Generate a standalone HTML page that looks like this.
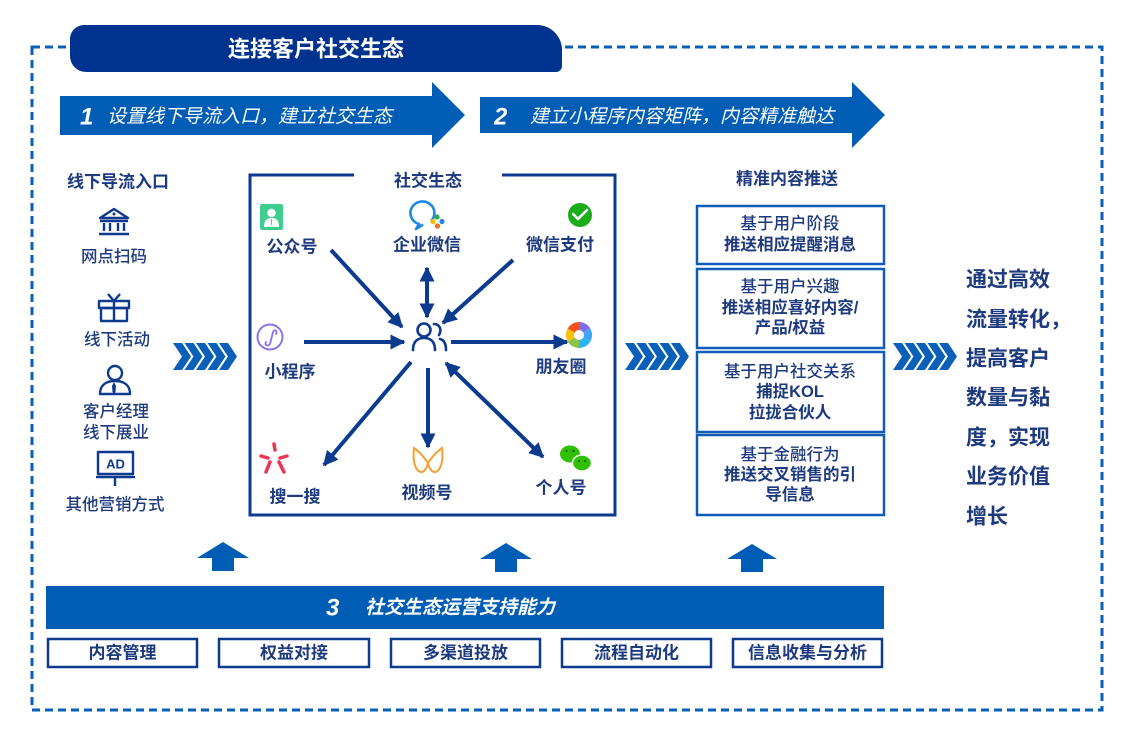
<!DOCTYPE html>
<html><head><meta charset="utf-8"><style>
html,body{margin:0;padding:0;background:#fff;}
svg{display:block;}
text{font-family:"Liberation Sans","Noto Sans CJK SC",sans-serif;}
</style></head><body>
<svg width="1127" height="731" viewBox="0 0 1127 731" xmlns="http://www.w3.org/2000/svg">
<defs>
<marker id="ah" viewBox="0 0 10 10" refX="9" refY="5" markerWidth="15" markerHeight="15" markerUnits="userSpaceOnUse" orient="auto-start-reverse">
<path d="M0,0 L10,5 L0,10 z" fill="#0B3A8F"/>
</marker>
</defs>
<rect width="1127" height="731" fill="#fff"/>
<!-- dashed border -->
<rect x="32" y="47" width="1070" height="663" fill="none" stroke="#0A5FB8" stroke-width="3" stroke-dasharray="8 5"/>
<!-- title bar -->
<path d="M84 25 H537 A25 25 0 0 1 562 50 V66 A6 6 0 0 1 556 72 H86 A16 16 0 0 1 70 56 V39 A14 14 0 0 1 84 25 Z" fill="#00338F"/>
<text x="316" y="49" text-anchor="middle" dominant-baseline="central" font-size="22" font-weight="700" fill="#fff">连接客户社交生态</text>

<!-- arrow 1 -->
<polygon points="60,96 432,96 432,82 465,115 432,148 432,135 60,135" fill="#005DB6"/>
<text x="80" y="117" dominant-baseline="central" font-size="24" font-weight="700" font-style="italic" fill="#fff">1</text>
<text x="107" y="117" dominant-baseline="central" font-size="19" font-style="italic" fill="#fff">设置线下导流入口，建立社交生态</text>
<!-- arrow 2 -->
<polygon points="480,97 852,97 852,82 885,115 852,148 852,133 480,133" fill="#005DB6"/>
<text x="494" y="117" dominant-baseline="central" font-size="24" font-weight="700" font-style="italic" fill="#fff">2</text>
<text x="530" y="117" dominant-baseline="central" font-size="19" font-style="italic" fill="#fff">建立小程序内容矩阵，内容精准触达</text>

<!-- left column -->
<g fill="#1E3A7E" text-anchor="middle" dominant-baseline="central">
<text x="118" y="182" font-size="17" font-weight="700">线下导流入口</text>
<text x="114" y="257" font-size="16.5" font-weight="500">网点扫码</text>
<text x="117" y="340" font-size="16.5" font-weight="500">线下活动</text>
<text x="116" y="412" font-size="16.5" font-weight="500">客户经理</text>
<text x="116" y="433" font-size="16.5" font-weight="500">线下展业</text>
<text x="115" y="505" font-size="16.5" font-weight="500">其他营销方式</text>
</g>
<g fill="none" stroke="#0B3A8F" stroke-width="2.4" stroke-linejoin="round">
<!-- bank -->
<path d="M100 218 L114 209 L128 218 Z"/>
<line x1="100" y1="221" x2="128" y2="221"/>
<line x1="104" y1="223" x2="104" y2="231"/>
<line x1="110" y1="223" x2="110" y2="231"/>
<line x1="118" y1="223" x2="118" y2="231"/>
<line x1="124" y1="223" x2="124" y2="231"/>
<line x1="99" y1="234" x2="129" y2="234"/>
<!-- gift -->
<rect x="99" y="301" width="30" height="7"/>
<rect x="101" y="308" width="26" height="13"/>
<line x1="114" y1="301" x2="114" y2="321"/>
<path d="M114 301 L108 294 M114 301 L120 294"/>
<!-- person -->
<circle cx="115" cy="373" r="7"/>
<path d="M100 394 C100 385 106 381 115 381 C124 381 130 385 130 394 Z"/>
<!-- AD -->
<rect x="98" y="452" width="35" height="22"/>
<line x1="96" y1="477" x2="135" y2="477"/>
<line x1="115" y1="477" x2="115" y2="486"/>
</g>
<circle cx="114" cy="214" r="1.5" fill="#0B3A8F"/>
<path d="M114 382 L116 386 L115.5 392 L114 394 L112.5 392 L112 386 Z" fill="#0B3A8F"/>
<text x="115.5" y="464" text-anchor="middle" dominant-baseline="central" font-size="13" font-weight="700" fill="#0B3A8F">AD</text>

<!-- chevrons -->
<g fill="#0A5FB8">
<g id="chev">
<polygon points="173,343 182,343 191,356.5 182,370 173,370 182,356.5"/>
<polygon points="184.5,343 193.5,343 202.5,356.5 193.5,370 184.5,370 193.5,356.5"/>
<polygon points="196,343 205,343 214,356.5 205,370 196,370 205,356.5"/>
<polygon points="207.5,343 216.5,343 225.5,356.5 216.5,370 207.5,370 216.5,356.5"/>
<polygon points="219,343 228,343 237,356.5 228,370 219,370 228,356.5"/>
</g>
<use href="#chev" x="452"/>
<use href="#chev" x="720"/>
</g>

<!-- center box -->
<rect x="250" y="175" width="365" height="340" fill="none" stroke="#0B3A8F" stroke-width="3"/>
<rect x="354" y="170" width="148" height="10" fill="#fff"/>
<text x="428" y="181" text-anchor="middle" dominant-baseline="central" font-size="17" font-weight="700" fill="#1E3A7E">社交生态</text>

<!-- arrows -->
<g stroke="#0B3A8F" stroke-width="4" fill="none">
<line x1="331" y1="250" x2="402" y2="327" marker-end="url(#ah)"/>
<line x1="427" y1="268" x2="427" y2="317" marker-start="url(#ah)" marker-end="url(#ah)"/>
<line x1="513" y1="260" x2="443" y2="323" marker-end="url(#ah)"/>
<line x1="304" y1="342" x2="404" y2="342" marker-end="url(#ah)"/>
<line x1="451" y1="342" x2="567" y2="342" marker-end="url(#ah)"/>
<line x1="411" y1="362" x2="324" y2="465" marker-end="url(#ah)"/>
<line x1="428" y1="368" x2="428" y2="447" marker-end="url(#ah)"/>
<line x1="446" y1="363" x2="543" y2="457" marker-start="url(#ah)" marker-end="url(#ah)"/>
</g>
<!-- people icon -->
<g fill="none" stroke="#0B3A8F" stroke-width="2.6" stroke-linecap="round">
<circle cx="424" cy="330" r="6.5"/>
<path d="M413 350 C413 341 418 338 424 338 C430 338 435 341 435 350"/>
<path d="M434 324 C440 324 442 330 439 335"/>
<path d="M440 339 C444 340 446 344 446 350"/>
</g>

<!-- center icons -->
<rect x="260" y="204" width="23" height="26" rx="2" fill="#3ECF8E"/>
<circle cx="271.5" cy="213" r="4.2" fill="#fff"/>
<path d="M264 227 C264 220 267 218 271.5 218 C276 218 279 220 279 227 Z" fill="#fff"/>
<line x1="271.5" y1="219" x2="271.5" y2="225" stroke="#3ECF8E" stroke-width="1"/>

<path d="M431 221 A12 11.5 0 1 0 419 224 L416 229 L423 224.5" fill="none" stroke="#1E88E5" stroke-width="2.6" stroke-linejoin="round"/>
<g>
<circle cx="437" cy="217" r="2.6" fill="#2DAA4F"/>
<circle cx="442" cy="221.5" r="2.6" fill="#1E88E5"/>
<circle cx="437.5" cy="226" r="2.6" fill="#F26B21"/>
<circle cx="433" cy="221.5" r="2.6" fill="#F6BE00"/>
</g>

<circle cx="580" cy="215" r="12" fill="#1AAD19"/>
<path d="M573 214 L578 219 L587 210" fill="none" stroke="#fff" stroke-width="2.6" stroke-linecap="round" stroke-linejoin="round"/>

<circle cx="270" cy="337" r="12.5" fill="none" stroke="#8C72E8" stroke-width="2"/>
<path d="M266 342 C264 345 268 347 270 344 L273 332 C274 329 278 330 276 334" fill="none" stroke="#8C72E8" stroke-width="1.8" stroke-linecap="round"/>

<g transform="translate(579,335)">
<path d="M0 0 L0 -13 A13 13 0 0 1 11.3 -6.5 Z" fill="#7A6FE8"/>
<path d="M0 0 L11.3 -6.5 A13 13 0 0 1 11.3 6.5 Z" fill="#3DA5F4"/>
<path d="M0 0 L11.3 6.5 A13 13 0 0 1 0 13 Z" fill="#29B6F6"/>
<path d="M0 0 L0 13 A13 13 0 0 1 -11.3 6.5 Z" fill="#8BC34A"/>
<path d="M0 0 L-11.3 6.5 A13 13 0 0 1 -11.3 -6.5 Z" fill="#FFC107"/>
<path d="M0 0 L-11.3 -6.5 A13 13 0 0 1 0 -13 Z" fill="#F4511E"/>
<circle r="5" fill="#fff"/>
</g>

<g stroke="#EE3355" stroke-width="3.5" stroke-linecap="round">
<line x1="274" y1="444" x2="275" y2="450"/>
<line x1="261" y1="456" x2="268" y2="458"/>
<line x1="280" y1="458" x2="287" y2="456"/>
<line x1="270" y1="462" x2="266" y2="472"/>
<line x1="279" y1="462" x2="284" y2="472"/>
</g>

<path d="M414 448 C411 472 424 480 428 463 C432 480 445 472 442 448 C436 452 432 457 428 463 C424 457 420 452 414 448 Z" fill="none" stroke="#F5A030" stroke-width="2"/>

<ellipse cx="570" cy="454" rx="10" ry="8.5" fill="#2DC100"/>
<ellipse cx="582" cy="463" rx="9.5" ry="8" fill="#2DC100" stroke="#fff" stroke-width="1.5"/>
<circle cx="566.5" cy="451" r="1.2" fill="#1B5E20"/>
<circle cx="573.5" cy="451" r="1.2" fill="#1B5E20"/>
<circle cx="579" cy="461" r="1.1" fill="#1B5E20"/>
<circle cx="585" cy="461" r="1.1" fill="#1B5E20"/>

<!-- center labels -->
<g fill="#1E3A7E" text-anchor="middle" dominant-baseline="central" font-size="17" font-weight="700">
<text x="292" y="247">公众号</text>
<text x="427" y="245">企业微信</text>
<text x="560" y="245">微信支付</text>
<text x="290" y="372">小程序</text>
<text x="561" y="367">朋友圈</text>
<text x="295" y="497">搜一搜</text>
<text x="427" y="493">视频号</text>
<text x="561" y="488">个人号</text>
</g>

<!-- right column -->
<text x="787" y="179" text-anchor="middle" dominant-baseline="central" font-size="17" font-weight="700" fill="#1E3A7E">精准内容推送</text>
<g fill="none" stroke="#0F5BB5" stroke-width="2.5">
<rect x="697" y="206" width="187" height="58"/>
<rect x="697" y="269" width="187" height="79"/>
<rect x="697" y="352" width="187" height="80"/>
<rect x="697" y="435" width="187" height="80"/>
</g>
<g fill="#1E3A7E" text-anchor="middle" dominant-baseline="central" font-size="16.5">
<text x="790" y="224" font-weight="500">基于用户阶段</text>
<text x="790" y="245" font-weight="700">推送相应提醒消息</text>
<text x="790" y="287" font-weight="500">基于用户兴趣</text>
<text x="790" y="308" font-weight="700">推送相应喜好内容/</text>
<text x="790" y="328" font-weight="700">产品/权益</text>
<text x="790" y="372" font-weight="500">基于用户社交关系</text>
<text x="790" y="392" font-weight="700">捕捉KOL</text>
<text x="790" y="413" font-weight="700">拉拢合伙人</text>
<text x="790" y="455" font-weight="500">基于金融行为</text>
<text x="790" y="475" font-weight="700">推送交叉销售的引</text>
<text x="790" y="495" font-weight="700">导信息</text>
</g>

<!-- far right text -->
<g fill="#1E3A7E" dominant-baseline="central" font-size="21" font-weight="700">
<text x="966" y="280">通过高效</text>
<text x="966" y="320">流量转化，</text>
<text x="966" y="359">提高客户</text>
<text x="966" y="398">数量与黏</text>
<text x="966" y="438">度，实现</text>
<text x="966" y="477">业务价值</text>
<text x="966" y="517">增长</text>
</g>

<!-- up arrows -->
<g fill="#005DB6">
<polygon points="223,542 249,558 234,558 234,571 212,571 212,558 197,558"/>
<polygon points="506,543 532,559 517,559 517,572 495,572 495,559 480,559"/>
<polygon points="752,544 777,559 763,559 763,572 741,572 741,559 727,559"/>
</g>

<!-- bottom bar -->
<rect x="46" y="586" width="838" height="43" fill="#005DB6"/>
<text x="326" y="608" dominant-baseline="central" font-size="24" font-weight="700" font-style="italic" fill="#fff">3</text>
<text x="365" y="608" dominant-baseline="central" font-size="19" font-weight="700" font-style="italic" fill="#fff">社交生态运营支持能力</text>

<g fill="none" stroke="#0B3A8F" stroke-width="2.5">
<rect x="48" y="639" width="149" height="28"/>
<rect x="219" y="639" width="150" height="28"/>
<rect x="391" y="639" width="149" height="28"/>
<rect x="562" y="639" width="149" height="28"/>
<rect x="733" y="639" width="149" height="28"/>
</g>
<g fill="#1E3A7E" text-anchor="middle" dominant-baseline="central" font-size="17" font-weight="700">
<text x="122.5" y="653">内容管理</text>
<text x="294" y="653">权益对接</text>
<text x="465.5" y="653">多渠道投放</text>
<text x="636.5" y="653">流程自动化</text>
<text x="807.5" y="653">信息收集与分析</text>
</g>
</svg>
</body></html>
